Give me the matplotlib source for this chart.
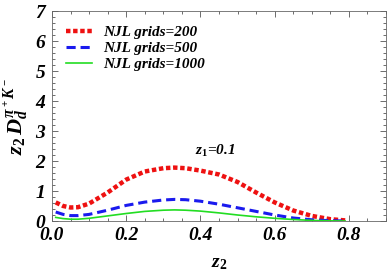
import numpy as np
import matplotlib.pyplot as plt
from matplotlib.ticker import MultipleLocator

# curves
z2 = [0.01, 0.03, 0.05, 0.07, 0.1, 0.15, 0.2, 0.25, 0.3, 0.33, 0.36, 0.4, 0.45, 0.5,
      0.55, 0.6, 0.65, 0.7, 0.75, 0.79]
d_200 = [0.62, 0.5, 0.45, 0.46, 0.58, 0.95, 1.38, 1.65, 1.76, 1.78, 1.76, 1.68, 1.55, 1.3,
         0.95, 0.62, 0.35, 0.17, 0.06, 0.02]
d_500 = [0.3, 0.22, 0.18, 0.18, 0.22, 0.36, 0.52, 0.63, 0.7, 0.72, 0.71, 0.66, 0.56, 0.44,
         0.32, 0.2, 0.1, 0.04, 0.01, 0.0]
d_1000 = [0.12, 0.08, 0.06, 0.06, 0.09, 0.17, 0.25, 0.32, 0.36, 0.37, 0.36, 0.33, 0.27, 0.2,
          0.14, 0.09, 0.05, 0.02, 0.005, 0.0]

plt.rcParams["font.family"] = "Liberation Serif"
plt.rcParams["mathtext.fontset"] = "custom"
plt.rcParams["mathtext.it"] = "Liberation Serif:italic:bold"
plt.rcParams["mathtext.rm"] = "Liberation Serif:bold"
plt.rcParams["mathtext.bf"] = "Liberation Serif:bold"

fig = plt.figure(figsize=(3.92, 2.77), dpi=100)
ax = fig.add_axes([52 / 392, 1 - 221 / 277, (386 - 52) / 392, (221 - 11) / 277])

ax.plot(z2, d_200, color="#ee1111", lw=3.2, ls=(0, (1.0, 0.6)), label="NJL grids=200")
ax.plot(z2, d_500, color="#1a1aee", lw=2.2, ls=(0, (3.0, 1.6)), label="NJL grids=500")
ax.plot(z2, d_1000, color="#22dd22", lw=1.2, label="NJL grids=1000")

ax.set_xlim(0, 0.9)
ax.set_ylim(0, 7)
ax.xaxis.set_major_locator(MultipleLocator(0.2))
ax.xaxis.set_minor_locator(MultipleLocator(0.05))
ax.yaxis.set_major_locator(MultipleLocator(1))
ax.yaxis.set_minor_locator(MultipleLocator(0.2))
ax.tick_params(which="both", direction="in", top=True, right=True, width=0.6, color="#555555")
ax.tick_params(which="major", length=4, labelsize=14)
ax.tick_params(which="minor", length=2)
for lab in ax.get_xticklabels() + ax.get_yticklabels():
    lab.set_fontweight("bold")
    lab.set_fontstyle("italic")
ax.xaxis.set_tick_params(pad=4)
ax.yaxis.set_tick_params(pad=5)
for sp in ax.spines.values():
    sp.set_linewidth(0.6)
    sp.set_color("#666666")

ax.set_xlabel("$z_2$", fontsize=14, labelpad=8)
ax.set_ylabel("$z_2\\, D_d^{\\pi^+K^-}$", fontsize=16, labelpad=4)
ax.text(0.44, 2.2, "$z_1$=0.1", fontsize=11, fontweight="bold", fontstyle="italic", ha="center")

leg = ax.legend(loc="upper left", bbox_to_anchor=(0.0, 0.995), frameon=False, handlelength=1.75,
                handletextpad=0.7, labelspacing=0.15, prop={"size": 11, "weight": "bold", "style": "italic"})

fig.savefig("out.png", dpi=100)
